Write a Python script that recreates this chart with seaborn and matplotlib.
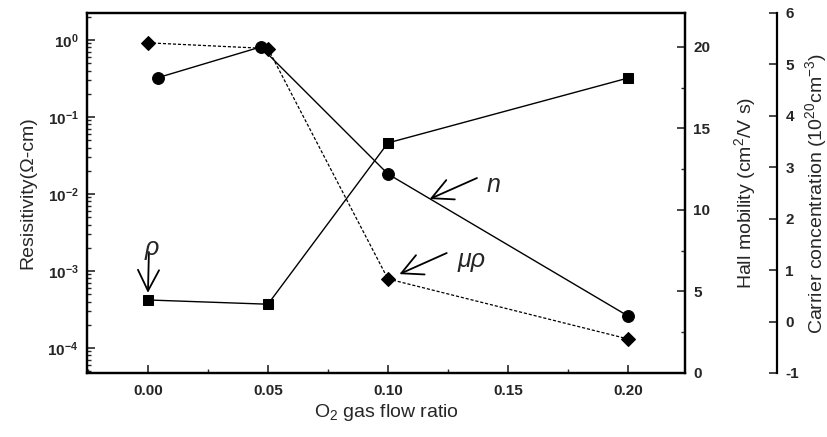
import matplotlib
matplotlib.use("Agg")
import matplotlib.pyplot as plt
import seaborn as sns
import numpy as np
from matplotlib.ticker import LogLocator, MultipleLocator, NullFormatter, FuncFormatter

# ---- data ----
x_rho = [0.00, 0.05, 0.10, 0.20]
rho = [4.2e-4, 3.7e-4, 0.046, 0.32]          # resistivity (ohm-cm)
x_mu = [0.00, 0.05, 0.10, 0.20]
mu = [20.25, 19.9, 5.77, 2.09]               # Hall mobility (cm^2/Vs)
x_n = [0.004, 0.047, 0.10, 0.20]
n = [4.74, 5.34, 2.87, 0.11]                 # carrier conc. (1e20 cm^-3)
x_ticks = [0.00, 0.05, 0.10, 0.15, 0.20]
mu_ticks = [0, 5, 10, 15, 20]
n_ticks = [-1, 0, 1, 2, 3, 4, 5, 6]

sns.set_style("ticks")
plt.rcParams['font.family'] = ['Liberation Sans', 'DejaVu Sans']
plt.rcParams['mathtext.fontset'] = 'custom'
plt.rcParams['mathtext.rm'] = 'Liberation Sans'
plt.rcParams['mathtext.it'] = 'Liberation Sans:italic'
plt.rcParams['mathtext.bf'] = 'Liberation Sans:bold'

fig = plt.figure(figsize=(8.28, 4.37), dpi=100)
ax = fig.add_axes([87/828, 1-373/437, (685-87)/828, (373-13)/437])
ax2 = ax.twinx()
ax3 = ax.twinx()
ax3.spines['right'].set_position(('axes', (777-87)/(685-87)))
for s in ['left', 'top', 'bottom']:
    ax3.spines[s].set_visible(False)

for a in (ax, ax2, ax3):
    for s in a.spines.values():
        s.set_linewidth(1.6)
        s.set_color('black')

# resistivity (squares)
sns.lineplot(x=x_rho, y=rho, ax=ax, color='black', marker='s', markersize=7.5,
             linewidth=1.0, markeredgecolor='black')
ax.set_yscale('log')
ax.set_ylim(4.73e-5, 2.24)
ax.set_xlim(-0.0254, 0.2238)

# mobility (diamonds, dashed)
sns.lineplot(x=x_mu, y=mu, ax=ax2, color='black', marker='D', markersize=7.5,
             linewidth=0.9, linestyle=(0, (2.5, 1.5)), markeredgecolor='black')
ax2.set_ylim(0, 22.08)

# carrier concentration (circles)
sns.lineplot(x=x_n, y=n, ax=ax3, color='black', marker='o', markersize=8.5,
             linewidth=1.0, markeredgecolor='black')
ax3.set_ylim(-1, 6)

tickfont = dict(fontsize=11, fontweight='bold')
ax.set_xticks(x_ticks)
ax.set_xticklabels([f"{v:.2f}" for v in x_ticks], **tickfont)
ax.xaxis.set_minor_locator(MultipleLocator(0.025))
ax.yaxis.set_major_locator(LogLocator(base=10, numticks=10))
ax.yaxis.set_major_formatter(FuncFormatter(
    lambda v, p: r"$\mathbf{10^{%d}}$" % int(round(np.log10(v)))))
ax.yaxis.set_minor_locator(LogLocator(base=10, subs=np.arange(2, 10), numticks=20))
ax.yaxis.set_minor_formatter(NullFormatter())
ax.tick_params(axis='both', which='major', direction='in', length=6, width=1.2,
               top=False, right=False)
ax.tick_params(axis='both', which='minor', direction='in', length=3, width=1.0,
               top=False, right=False)
ax.tick_params(axis='y', labelsize=11, pad=6)
ax.tick_params(axis='x', pad=8)

ax2.set_yticks(mu_ticks)
ax2.set_yticklabels([str(v) for v in mu_ticks], **tickfont)
ax2.yaxis.set_minor_locator(MultipleLocator(2.5))
ax2.tick_params(axis='y', which='major', direction='in', length=6, width=1.2, pad=6)
ax2.tick_params(axis='y', which='minor', direction='in', length=3, width=1.0)

ax3.set_yticks(n_ticks)
ax3.set_yticklabels([str(v) for v in n_ticks], **tickfont)
ax3.tick_params(axis='y', which='major', direction='in', length=6, width=1.2, pad=6)

ax.set_xlabel("O$_2$ gas flow ratio", fontsize=14, labelpad=3)
ax.set_ylabel("Resisitivity(Ω-cm)", fontsize=14, labelpad=8)
ax2.set_ylabel("Hall mobility (cm$^2$/V s)", fontsize=14, labelpad=16)
ax3.set_ylabel("Carrier concentration (10$^{20}$cm$^{-3}$)", fontsize=14, labelpad=3)

# annotations: arrows and labels
arrow = dict(arrowstyle='->, head_length=0.75, head_width=0.38', color='black',
             lw=1.3, mutation_scale=20, shrinkA=0, shrinkB=0)
ax.annotate("", xy=(0.0, 5.2e-4), xytext=(0.0004, 1.76e-3), arrowprops=arrow)
ax.text(0.0017, 1.98e-3, "ρ", fontsize=18, fontstyle='italic', ha='center', va='center')

ax.annotate("", xy=(0.1174, 0.0086), xytext=(0.1371, 0.0161), arrowprops=arrow)
ax.text(0.1442, 0.0131, "n", fontsize=18, fontstyle='italic', ha='center', va='center')

ax.annotate("", xy=(0.1048, 9.1e-4), xytext=(0.1245, 1.71e-3), arrowprops=arrow)
ax.text(0.1350, 1.39e-3, "μρ", fontsize=18, fontstyle='italic', ha='center', va='center')

fig.savefig("out.png", dpi=100)
